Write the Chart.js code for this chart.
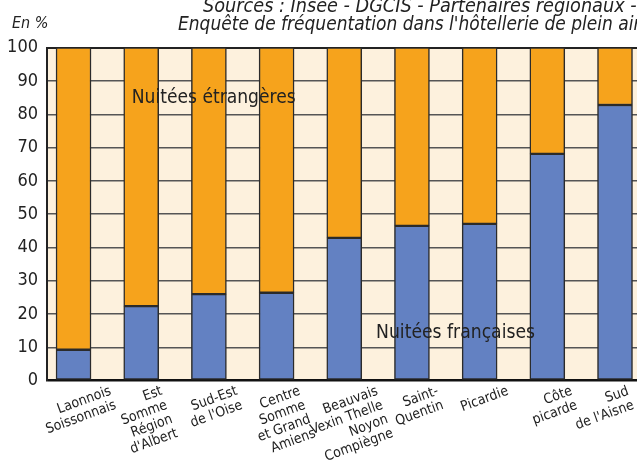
<!DOCTYPE html>
<html>
<head>
<meta charset="utf-8">
<script src="https://cdn.jsdelivr.net/npm/chart.js@4"></script>
<style>
  body { margin: 0; background: #fff; }
  #wrap { width: 637px; height: 463px; position: relative; }
</style>
</head>
<body>
<div id="wrap"><canvas id="chart"></canvas></div>
<script>
// zones touristiques, lignes du libellé
const zones = [
    ['Laonnois', 'Soissonnais'],
    ['Est', 'Somme', 'Région', "d'Albert"],
    ['Sud-Est', "de l'Oise"],
    ['Centre', 'Somme', 'et Grand', 'Amiens'],
    ['Beauvais', 'Vexin Thelle', 'Noyon', 'Compiègne'],
    ['Saint-', 'Quentin'],
    ['Picardie'],
    ['Côte', 'picarde'],
    ['Sud', "de l'Aisne"]
];
// part des nuitées, en %
const nuiteesFrancaises = [9.3, 22.4, 26.0, 26.4, 42.9, 46.5, 47.1, 68.1, 82.8];
const nuiteesEtrangeres = [90.7, 77.6, 74.0, 73.6, 57.1, 53.5, 52.9, 31.9, 17.2];
const yTicks = [0, 10, 20, 30, 40, 50, 60, 70, 80, 90, 100];

const sourceLine1 = 'Sources : Insee - DGCIS - Partenaires régionaux -';
const sourceLine2 = "Enquête de fréquentation dans l'hôtellerie de plein air";

const COND = '"DejaVu Sans Condensed", "Liberation Sans Narrow", sans-serif';
const BLUE = '#6381c2';
const ORANGE = '#f6a31c';
const EDGE = '#2b2b2b';

const toPoints = arr => arr.map((v, i) => ({ x: i, y: v }));

// taille de police pour qu'un texte occupe une largeur donnée
function fitFont(ctx, text, style, width) {
    ctx.font = style + ' 20px ' + COND;
    const size = 20 * width / ctx.measureText(text).width;
    ctx.font = style + ' ' + size.toFixed(2) + 'px ' + COND;
}

const backdrop = {
    id: 'backdrop',
    beforeDraw(chart) {
        const { ctx, chartArea: a } = chart;
        ctx.save();
        ctx.fillStyle = '#fdf1dd';
        ctx.fillRect(a.left, a.top, a.right - a.left, a.bottom - a.top);
        ctx.restore();
    }
};

const texts = {
    id: 'texts',
    afterDraw(chart) {
        const { ctx } = chart;
        const xs = chart.scales.x, ys = chart.scales.y;
        ctx.save();
        ctx.fillStyle = '#222';

        // sources
        ctx.textAlign = 'left';
        ctx.textBaseline = 'alphabetic';
        fitFont(ctx, sourceLine1, 'italic', 434);
        ctx.fillText(sourceLine1, 203, 12);
        fitFont(ctx, sourceLine2, 'italic', 463);
        ctx.fillText(sourceLine2, 178, 30);
        ctx.font = 'italic 16px ' + COND;
        ctx.fillText('En %', 12, 28);

        // libellés des zones, inclinés, lignes alignées à droite
        const angle = -20 * Math.PI / 180;
        const sin = Math.sin(-angle), cos = Math.cos(angle);
        const lh = 15;
        ctx.font = '14px ' + COND;
        ctx.textAlign = 'right';
        ctx.textBaseline = 'middle';
        zones.forEach((lines, i) => {
            const w = Math.max(...lines.map(l => ctx.measureText(l).width));
            const h = lines.length * lh;
            const halfW = (w / 2) * cos + (h / 2) * sin;
            const halfH = (w / 2) * sin + (h / 2) * cos;
            const cx = Math.min(xs.getPixelForValue(i) + 5, chart.width - 1 - halfW);
            const cy = ys.bottom + 3 + halfH;
            ctx.save();
            ctx.translate(cx, cy);
            ctx.rotate(angle);
            lines.forEach((l, k) => ctx.fillText(l, w / 2, -h / 2 + lh * (k + 0.5)));
            ctx.restore();
        });

        // étiquettes des séries
        ctx.textAlign = 'left';
        fitFont(ctx, 'Nuitées étrangères', '', 164);
        ctx.fillText('Nuitées étrangères', xs.getPixelForValue(0.86), ys.getPixelForValue(85));
        fitFont(ctx, 'Nuitées françaises', '', 159);
        ctx.fillText('Nuitées françaises', xs.getPixelForValue(4.47), ys.getPixelForValue(14.4));
        ctx.restore();
    }
};

const gridColor = ctx => {
    const v = ctx.tick.value;
    if (v === 100) return '#222';
    if (v === 0) return '#111';
    return '#555';
};
const gridWidth = ctx => {
    const v = ctx.tick.value;
    if (v === 0) return 2.5;
    if (v === 100) return 2;
    return 1.5;
};

new Chart(document.getElementById('chart'), {
    type: 'bar',
    data: {
        datasets: [
            {
                label: 'Nuitées françaises',
                data: toPoints(nuiteesFrancaises),
                backgroundColor: BLUE,
                borderColor: EDGE,
                borderWidth: 1.5,
                borderSkipped: false,
                barThickness: 35
            },
            {
                label: 'Nuitées étrangères',
                data: toPoints(nuiteesEtrangeres),
                backgroundColor: ORANGE,
                borderColor: EDGE,
                borderWidth: 1.5,
                borderSkipped: false,
                barThickness: 35
            }
        ]
    },
    options: {
        responsive: true,
        maintainAspectRatio: false,
        animation: false,
        layout: { padding: { top: 47.7, right: 0, bottom: 82.3, left: 0 } },
        plugins: {
            legend: { display: false },
            tooltip: { enabled: false },
            title: { display: false }
        },
        scales: {
            x: {
                type: 'linear',
                stacked: true,
                offset: false,
                min: -0.392,
                max: 8.325,
                display: false
            },
            y: {
                stacked: true,
                min: 0,
                max: 100,
                afterFit: scale => { scale.width = 47; },
                afterBuildTicks: scale => { scale.ticks = yTicks.map(v => ({ value: v })); },
                ticks: {
                    padding: 9,
                    color: '#222',
                    font: { family: '"DejaVu Sans Condensed", sans-serif', size: 18 }
                },
                grid: {
                    drawTicks: false,
                    color: gridColor,
                    lineWidth: gridWidth
                },
                border: { display: true, color: '#222', width: 2 }
            }
        }
    },
    plugins: [backdrop, texts]
});
</script>
</body>
</html>
